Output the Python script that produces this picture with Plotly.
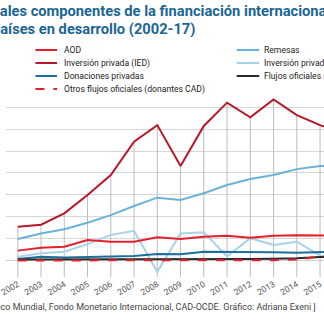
import plotly.graph_objects as go

# Financial flows to developing countries, 2002-2017 (miles de millones USD)
years = list(range(2002, 2018))

aod = [43, 56, 61, 92, 84, 84, 104, 96, 107, 111, 102, 111, 113, 110, 112, 115]
ied = [153, 162, 214, 298, 390, 543, 619, 431, 615, 722, 655, 737, 665, 619, 580, 600]
donaciones = [5, 15, 12, 15, 15, 18, 28, 26, 38, 38, 35, 35, 33, 38, 40, 42]
otros_cad = [-2, -2, -2, -2, -2, -2, -2, -2, -2, -2, -2, -1, 2, 16, 18, 20]
remesas = [96, 122, 141, 171, 206, 248, 286, 275, 306, 344, 372, 390, 417, 431, 430, 460]
inv_privada = [15, 31, 38, 73, 115, 134, -54, 122, 127, 16, 100, 69, 84, 20, 10, 40]
oficiales_no_cad = [2, 2, 2, 2, 2, 2, 2, 3, 4, 5, 5, 6, 8, 14, 15, 16]

series = [
    # name, values, colour, dash, legend column, legend row
    ("AOD", aod, "#e3202c", "solid", 0, 0),
    ("Inversión privada (IED)", ied, "#b8172b", "solid", 0, 1),
    ("Donaciones privadas", donaciones, "#1c6e9c", "solid", 0, 2),
    ("Remesas", remesas, "#6ab2d8", "solid", 1, 0),
    ("Inversión privada (no IED)", inv_privada, "#a9d2e8", "solid", 1, 1),
    ("Flujos oficiales (no CAD)", oficiales_no_cad, "#2a2a2a", "solid", 1, 2),
    ("Otros flujos oficiales (donantes CAD)", otros_cad, "#e3202c", "dash", 0, 3),
]

W, H = 324, 324
PLOT_TOP, PLOT_BOTTOM = 85, 277
Y_RANGE = [-78, 803]
X_RANGE = [2001.493, 2015.17]


def px_x(p):
    return p / W


def px_y(p):
    return (PLOT_BOTTOM - p) / (PLOT_BOTTOM - PLOT_TOP)


fig = go.Figure()

# vertical drop lines from the top series down to the bottom of the plot
drop_x, drop_y = [], []
for yr, v in zip(years, ied):
    drop_x += [yr, yr, None]
    drop_y += [v, Y_RANGE[0], None]
fig.add_trace(go.Scatter(x=drop_x, y=drop_y, mode="lines",
                         line=dict(color="#bdbdbd", width=1),
                         hoverinfo="skip", showlegend=False))

draw_order = ["Inversión privada (no IED)", "Remesas", "AOD", "Donaciones privadas",
              "Flujos oficiales (no CAD)", "Otros flujos oficiales (donantes CAD)",
              "Inversión privada (IED)"]
by_name = {s[0]: s for s in series}
for name in draw_order:
    _, vals, color, dash, _, _ = by_name[name]
    fig.add_trace(go.Scatter(x=years, y=vals, mode="lines", name=name,
                             line=dict(color=color, width=2, dash=dash),
                             showlegend=False))

shapes = [
    # white panel behind the legend
    dict(type="rect", xref="paper", yref="paper", layer="above",
         x0=px_x(22), x1=px_x(330), y0=px_y(95), y1=px_y(40),
         fillcolor="white", line=dict(width=0)),
]
annotations = []
legend_font = dict(family="Roboto", size=8.6, color="#222222")
col_line_x = [(30, 52), (235, 258)]
col_text_x = [57, 261]
row_y = [50, 63, 76, 89]
for name, _, color, dash, col, row in series:
    x0, x1 = col_line_x[col]
    yy = px_y(row_y[row])
    shapes.append(dict(type="line", xref="paper", yref="paper", layer="above",
                       x0=px_x(x0), x1=px_x(x1), y0=yy, y1=yy,
                       line=dict(color=color, width=2, dash=dash)))
    annotations.append(dict(text=name, xref="paper", yref="paper",
                            x=px_x(col_text_x[col]), y=yy, xanchor="left",
                            yanchor="middle", showarrow=False, font=legend_font))

title_font = dict(family="Roboto", size=14.7, color="#1b6694", weight="bold")
annotations.append(dict(text="Principales componentes de la financiación internacional a",
                        xref="paper", yref="paper", x=px_x(-56.5), y=px_y(11),
                        xanchor="left", yanchor="middle", showarrow=False,
                        font=title_font))
annotations.append(dict(text="países en desarrollo (2002-17)",
                        xref="paper", yref="paper", x=px_x(-16.5), y=px_y(29),
                        xanchor="left", yanchor="middle", showarrow=False,
                        font=title_font))
annotations.append(dict(
    text="[Fuente: Banco Mundial, Fondo Monetario Internacional, CAD-OCDE. Gráfico: Adriana Exeni ]",
    xref="paper", yref="paper", x=px_x(318), y=px_y(307),
    xanchor="right", yanchor="middle", showarrow=False,
    font=dict(family="Roboto", size=9, color="#444444")))

fig.update_layout(
    width=W, height=H,
    margin=dict(l=0, r=0, t=PLOT_TOP, b=H - PLOT_BOTTOM, pad=0),
    paper_bgcolor="white", plot_bgcolor="white",
    shapes=shapes, annotations=annotations,
    showlegend=False,
)
fig.update_xaxes(range=X_RANGE, tickvals=years, ticktext=[str(y) for y in years],
                 tickangle=-30, showgrid=False, zeroline=False, showline=False,
                 ticks="", ticklabeloverflow="allow",
                 tickfont=dict(family="Roboto", size=8.5, color="#555555"))
fig.update_yaxes(range=Y_RANGE, dtick=100, tick0=0, showticklabels=False,
                 gridcolor="#d6d6d6", gridwidth=1, zeroline=True,
                 zerolinecolor="#d0d0d0", zerolinewidth=1, showline=False)

fig.write_html("out.html")
